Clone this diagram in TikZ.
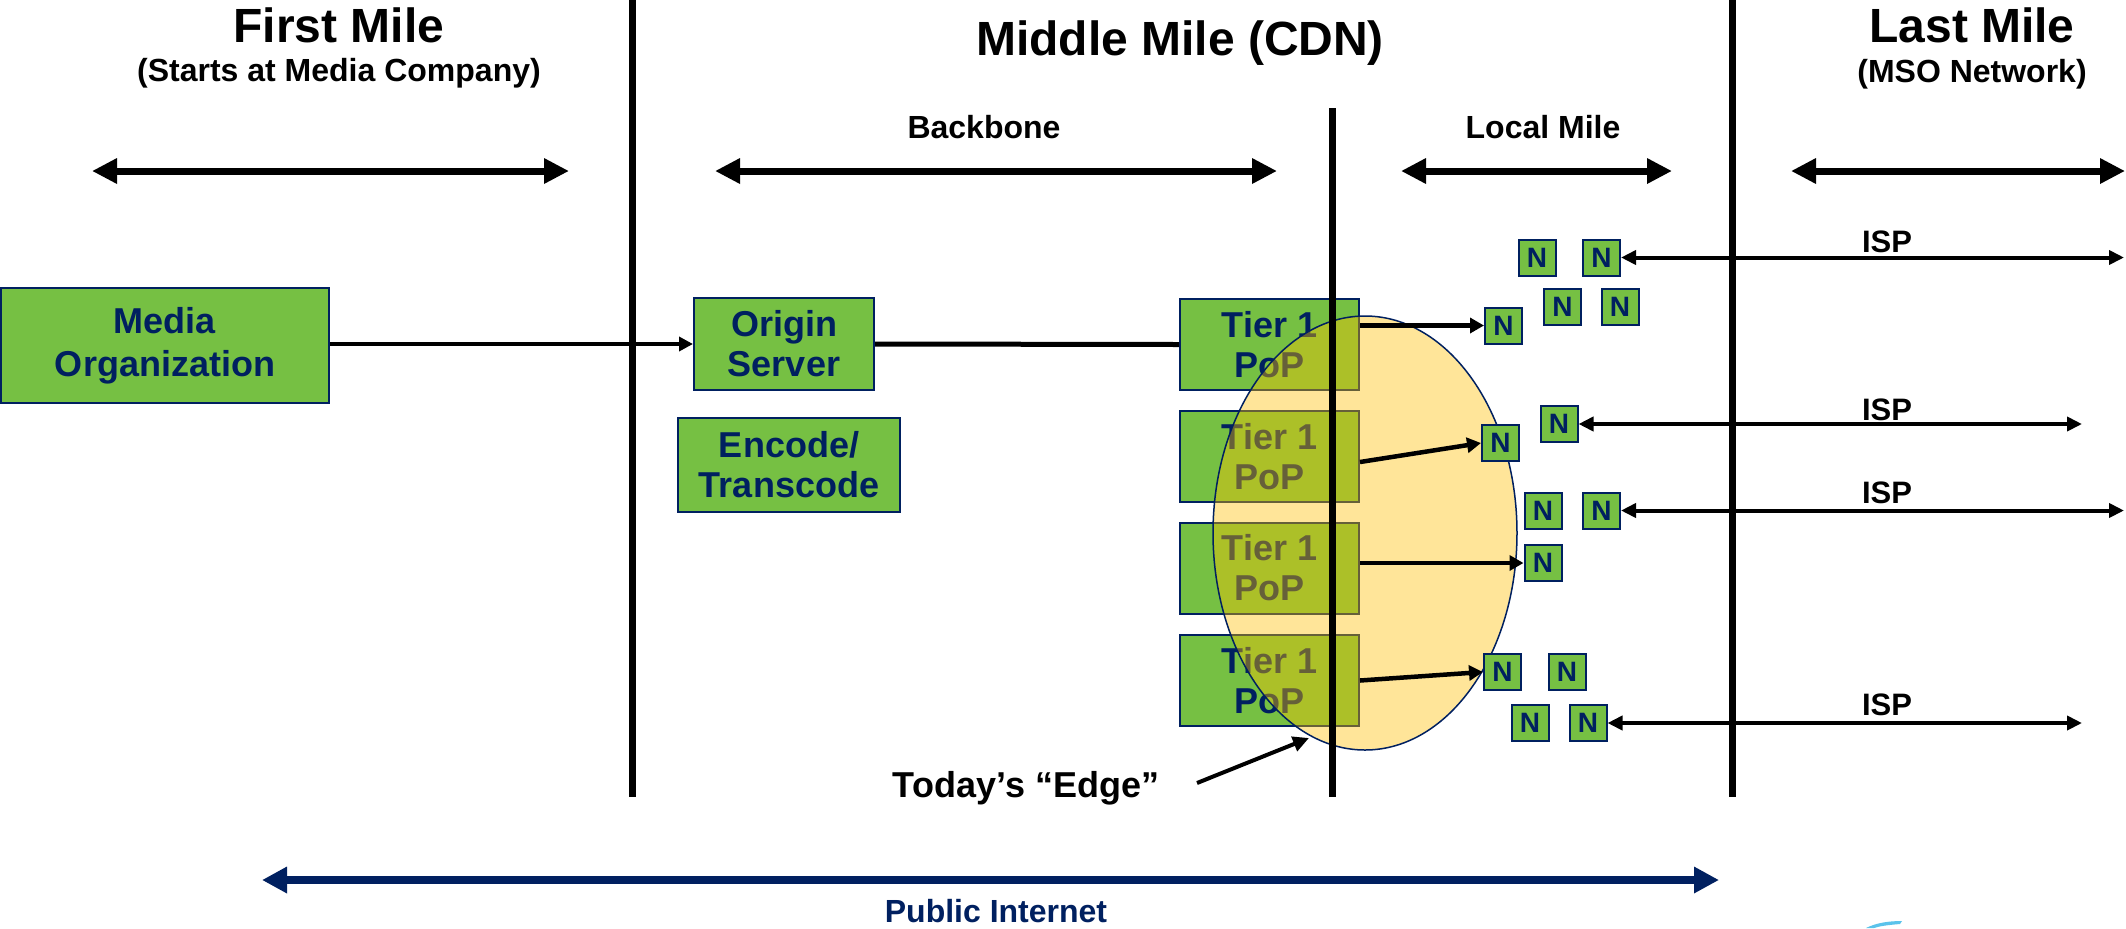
\documentclass[tikz,border=0pt]{standalone}
\usepackage{fontspec}
\setmainfont{Liberation Sans}
\usetikzlibrary{arrows.meta}
\definecolor{navy}{HTML}{002060}
\definecolor{boxgreen}{HTML}{76C043}
\definecolor{edgegold}{HTML}{FFC000}
\definecolor{logoblue}{HTML}{5BC3EB}

\begin{document}
\begin{tikzpicture}[x=0.5pt,y=-0.5pt,
  greenbox/.style={draw=navy, line width=1pt, fill=boxgreen, text=navy,
    font=\bfseries\fontsize{18}{20}\selectfont, align=center, inner sep=0pt},
  tierbox/.style={greenbox, minimum width=89.5pt, minimum height=45.5pt},
  nbox/.style={draw=navy, line width=1pt, fill=boxgreen, text=navy,
    font=\bfseries\fontsize{14}{16}\selectfont,
    minimum width=18.5pt, minimum height=18pt, inner sep=0pt},
  title/.style={font=\bfseries\fontsize{24}{28}\selectfont, anchor=base},
  subtitle/.style={font=\bfseries\fontsize{16}{19}\selectfont, anchor=base},
  isplabel/.style={font=\bfseries\fontsize{15.5}{18}\selectfont, anchor=base},
  divider/.style={line width=3.5pt},
  span/.style={line width=3.5pt,
    {Triangle[length=12.5pt,width=12pt]}-{Triangle[length=12.5pt,width=12pt]}},
  feed/.style={line width=2.25pt, -{Triangle[length=7pt,width=7.5pt]}},
  ispline/.style={line width=2pt,
    {Triangle[length=7.5pt,width=7pt]}-{Triangle[length=7.5pt,width=7pt]}},
]
% canvas
\fill[white] (0,0) rectangle (2126,928);
\useasboundingbox (0,0) rectangle (2126,928);

% headings
\node[title] (first) at (339,42) {First Mile};
\node[subtitle] (firstsub) at (339,81) {(Starts at Media Company)};
\node[title] (middle) at (1180,55) {Middle Mile (CDN)};
\node[subtitle] (backbone) at (984,138) {Backbone};
\node[subtitle] (local) at (1543,138) {Local Mile};
\node[title] (last) at (1972,42) {Last Mile};
\node[subtitle] (lastsub) at (1972,82) {(MSO Network)};

% span arrows under the headings
\coordinate (fa) at (92,171);   \coordinate (fb) at (569,171);
\coordinate (ba) at (715,171);  \coordinate (bb) at (1277,171);
\coordinate (la) at (1401,171); \coordinate (lb) at (1672,171);
\coordinate (ma) at (1791,171); \coordinate (mb) at (2125,171);
\draw[span] (fa) -- (fb);
\draw[span] (ba) -- (bb);
\draw[span] (la) -- (lb);
\draw[span] (ma) -- (mb);

% boxes
\node[greenbox, minimum width=164pt, minimum height=57.5pt,
  font=\bfseries\fontsize{18}{21.5}\selectfont] (media) at (165,345.5) {Media\\Organization};
\node[greenbox, minimum width=90pt, minimum height=46pt] (origin) at (784,344) {Origin\\Server};
\node[greenbox, minimum width=111pt, minimum height=47pt] (encode) at (789,465) {Encode/\\Transcode};
\node[tierbox] (t1) at (1269.5,344.5) {Tier 1\\PoP};
\node[tierbox] (t2) at (1269.5,456.5) {Tier 1\\PoP};
\node[tierbox] (t3) at (1269.5,568) {Tier 1\\PoP};
\node[tierbox] (t4) at (1269.5,680.5) {Tier 1\\PoP};

% today's edge
\draw[navy, line width=0.75pt, fill=edgegold, fill opacity=0.4]
  (1365,533) ellipse [x radius=76pt, y radius=108.5pt];

% edge nodes
\node[nbox] (n1) at (1537,257.5) {N};
\node[nbox] (n2) at (1601.5,257.5) {N};
\node[nbox] (n3) at (1562.5,307) {N};
\node[nbox] (n4) at (1620,307) {N};
\node[nbox] (n5) at (1503.5,325.5) {N};
\node[nbox] (n6) at (1559,424) {N};
\node[nbox] (n7) at (1500.5,443) {N};
\node[nbox] (n8) at (1543,510.5) {N};
\node[nbox] (n9) at (1601.5,510.5) {N};
\node[nbox] (n10) at (1543,563) {N};
\node[nbox] (n11) at (1502.5,672) {N};
\node[nbox] (n12) at (1567,672) {N};
\node[nbox] (n13) at (1530,723) {N};
\node[nbox] (n14) at (1588,723) {N};

% dividers
\coordinate (d1t) at (632,0);    \coordinate (d1b) at (632,797);
\coordinate (d2t) at (1332,108); \coordinate (d2b) at (1332,797);
\coordinate (d3t) at (1732,0);   \coordinate (d3b) at (1732,797);
\draw[divider] (d1t) -- (d1b);
\draw[divider] (d2t) -- (d2b);
\draw[divider] (d3t) -- (d3b);

% content path
\draw[line width=1.75pt, -{Triangle[length=7pt,width=7pt]}] (media.east |- origin.west) -- (origin.west);
\draw[line width=2.5pt] (origin.east) -- (t1.west);
\draw[feed] (t1.east |- n5) -- (n5.west);
\draw[feed] ([yshift=-2.75pt]t2.east) -- (n7.west);
\draw[feed] (t3.east |- n10) -- (n10.west);
\draw[feed] (t4.east) -- (n11.west);

% ISP links
\coordinate (i1) at (2124,257.5);
\coordinate (i2) at (2082,424);
\coordinate (i3) at (2124,510.5);
\coordinate (i4) at (2082,723);
\draw[ispline] (n2.east) -- (i1);
\draw[ispline] (n6.east) -- (i2);
\draw[ispline] (n9.east) -- (i3);
\draw[ispline] (n14.east) -- (i4);
\node[isplabel] (isp1) at (1887,252) {ISP};
\node[isplabel] (isp2) at (1887,420) {ISP};
\node[isplabel] (isp3) at (1887,503) {ISP};
\node[isplabel] (isp4) at (1887,715) {ISP};

% edge callout
\node[font=\bfseries\fontsize{18}{21}\selectfont, anchor=base] (edge) at (1026,797) {Today’s “Edge”};
\coordinate (ea) at (1197,783);
\coordinate (eb) at (1309,738);
\draw[line width=2pt, -{Triangle[length=8pt,width=7.5pt]}] (ea) -- (eb);

% public internet span
\coordinate (pa) at (262,880);
\coordinate (pb) at (1719,880);
\draw[navy, line width=4pt,
  {Triangle[length=12.5pt,width=12.5pt]}-{Triangle[length=12.5pt,width=12.5pt]}] (pa) -- (pb);
\node[font=\bfseries\fontsize{16}{19}\selectfont, text=navy, anchor=base] (pub) at (996,922) {Public Internet};

% logo sliver at the lower edge
\fill[logoblue] (1866,928) .. controls (1876,923) and (1888,921) .. (1902,921)
  -- (1900,924) .. controls (1888,925) and (1880,926) .. (1874,928) -- cycle;
\end{tikzpicture}
\end{document}
